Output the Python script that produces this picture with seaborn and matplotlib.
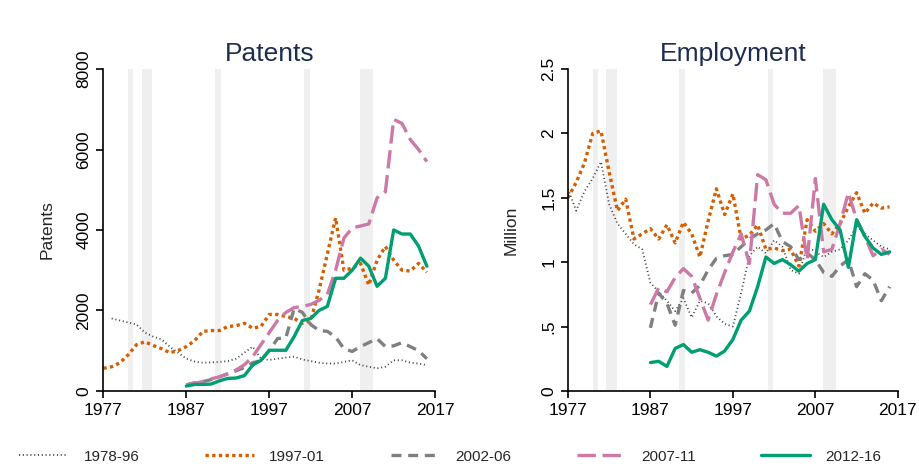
import matplotlib
matplotlib.use('Agg')
import matplotlib.pyplot as plt
import pandas as pd
import seaborn as sns

# years for each cohort series
years_77 = list(range(1977, 2017))
years_78 = list(range(1978, 2017))
years_87 = list(range(1987, 2017))

# Patents
pat_7896 = [1800, 1750, 1700, 1650, 1450, 1350, 1280, 1100, 950, 800,
            730, 700, 710, 720, 740, 800, 950, 1100, 800, 770,
            800, 830, 850, 780, 740, 700, 680, 680, 720, 760,
            640, 600, 560, 600, 760, 760, 700, 680, 640]
pat_9701 = [560, 600, 700, 900, 1150, 1220, 1130, 1050, 950, 1000,
            1100, 1250, 1480, 1500, 1500, 1600, 1620, 1680, 1560, 1600,
            1900, 1900, 1850, 1800, 1680, 1750, 2500, 3400, 4300, 3000,
            3050, 3170, 2630, 3250, 3590, 3250, 3000, 2980, 3170, 2950]
pat_0206 = [150, 200, 230, 280, 350, 420, 500, 580, 700, 750,
            1000, 1300, 1320, 2050, 1950, 1650, 1500, 1480, 1340, 1050,
            980, 1100, 1200, 1300, 1100, 1120, 1200, 1100, 1000, 800]
pat_0711 = [150, 190, 230, 300, 350, 430, 520, 650, 850, 1150,
            1450, 1750, 1950, 2070, 2100, 2150, 2250, 2400, 3000, 3800,
            4050, 4100, 4150, 4800, 4950, 6750, 6650, 6250, 6000, 5700]
pat_1216 = [120, 160, 160, 170, 250, 310, 320, 380, 640, 760,
            1010, 1010, 1010, 1350, 1750, 1800, 2000, 2100, 2800, 2800,
            3000, 3300, 3100, 2600, 2800, 4000, 3900, 3900, 3600, 3100]

# Employment (million)
emp_7896 = [1.57, 1.40, 1.55, 1.65, 1.78, 1.45, 1.30, 1.22, 1.14, 1.10,
            0.84, 0.77, 0.70, 0.62, 0.72, 0.57, 0.70, 0.68, 0.58, 0.52,
            0.50, 0.76, 1.05, 1.12, 1.07, 1.17, 1.12, 0.94, 0.91, 1.12,
            1.08, 1.04, 1.08, 1.10, 1.17, 1.28, 1.22, 1.17, 1.12, 1.10]
emp_9701 = [1.50, 1.62, 1.77, 2.00, 2.02, 1.70, 1.40, 1.49, 1.18, 1.22,
            1.26, 1.18, 1.29, 1.15, 1.31, 1.22, 1.04, 1.32, 1.57, 1.37,
            1.53, 1.18, 1.21, 1.29, 1.10, 1.11, 1.09, 1.10, 0.97, 1.33,
            1.24, 1.30, 1.22, 1.30, 1.43, 1.54, 1.38, 1.46, 1.42, 1.43]
emp_0206 = [0.49, 0.76, 0.68, 0.51, 0.78, 0.76, 0.82, 0.94, 1.03, 1.05,
            1.06, 1.12, 1.18, 1.22, 1.25, 1.30, 1.16, 1.12, 1.02, 1.07,
            1.02, 0.92, 0.89, 0.97, 1.02, 0.81, 0.91, 0.86, 0.70, 0.81]
emp_0711 = [0.67, 0.80, 0.77, 0.88, 0.95, 0.89, 0.72, 0.55, 0.75, 0.92,
            1.08, 1.22, 0.99, 1.68, 1.64, 1.45, 1.38, 1.38, 1.44, 1.02,
            1.65, 1.08, 1.10, 1.30, 1.54, 1.33, 1.20, 1.05, 1.10, 1.06]
emp_1216 = [0.22, 0.23, 0.19, 0.33, 0.36, 0.30, 0.32, 0.30, 0.27, 0.31,
            0.40, 0.55, 0.62, 0.81, 1.04, 0.99, 1.02, 0.98, 0.93, 0.99,
            1.02, 1.45, 1.33, 1.25, 0.96, 1.33, 1.20, 1.11, 1.06, 1.08]

cohorts = ['1978-96', '1997-01', '2002-06', '2007-11', '2012-16']
recessions = [(1980.0, 1980.6), (1981.6, 1982.9), (1990.5, 1991.2),
              (2001.2, 2001.9), (2007.9, 2009.5)]

styles = {
    '1978-96': dict(color='#444444', lw=1.3, ls=(0, (0.6, 1.5))),
    '1997-01': dict(color='#D55E00', lw=2.4, ls=(0, (1, 1))),
    '2002-06': dict(color='#808080', lw=2.4, ls=(0, (3, 2))),
    '2007-11': dict(color='#CC79A7', lw=2.4, ls=(0, (5.5, 2))),
    '2012-16': dict(color='#009E73', lw=2.4, ls='-'),
}

patents = {'1978-96': (years_78, pat_7896), '1997-01': (years_77, pat_9701),
           '2002-06': (years_87, pat_0206), '2007-11': (years_87, pat_0711),
           '2012-16': (years_87, pat_1216)}
employment = {'1978-96': (years_77, emp_7896), '1997-01': (years_77, emp_9701),
              '2002-06': (years_87, emp_0206), '2007-11': (years_87, emp_0711),
              '2012-16': (years_87, emp_1216)}

sns.set_style('white')
plt.rcParams['font.family'] = ['Liberation Sans', 'DejaVu Sans']

fig = plt.figure(figsize=(9.19, 4.67), dpi=100)
ax1 = fig.add_axes([0.1125, 0.163, 0.361, 0.689])
ax2 = fig.add_axes([0.618, 0.163, 0.359, 0.689])


def draw(ax, data, title, ylab, ymax, yticks, yticklabels):
    for a, b in recessions:
        ax.axvspan(a, b, color='#efefef', lw=0, zorder=0)
    for c in cohorts:
        yrs, vals = data[c]
        df = pd.DataFrame({'year': yrs, 'value': vals})
        st = styles[c]
        sns.lineplot(data=df, x='year', y='value', ax=ax, color=st['color'],
                     linewidth=st['lw'], linestyle=st['ls'], label=c, legend=False)
    ax.set_xlim(1977, 2017)
    ax.set_ylim(0, ymax)
    ax.set_xticks([1977, 1987, 1997, 2007, 2017])
    ax.set_yticks(yticks)
    ax.set_yticklabels(yticklabels, rotation=90, va='center')
    ax.tick_params(axis='both', direction='out', length=5, width=1.2,
                   labelsize=12.5, colors='black', left=True, bottom=True)
    ax.set_xlabel('')
    ax.set_ylabel(ylab, fontsize=12.5, labelpad=16)
    ax.set_title(title, fontsize=19, color='#1e2d4f', pad=6)
    sns.despine(ax=ax)
    for s in ['left', 'bottom']:
        ax.spines[s].set_color('black')
        ax.spines[s].set_linewidth(1.2)


draw(ax1, patents, 'Patents', 'Patents', 8000,
     [0, 2000, 4000, 6000, 8000], ['0', '2000', '4000', '6000', '8000'])
draw(ax2, employment, 'Employment', 'Million', 2.5,
     [0, 0.5, 1, 1.5, 2, 2.5], ['0', '.5', '1', '1.5', '2', '2.5'])

handles, labels = ax1.get_legend_handles_labels()
fig.legend(handles, labels, loc='lower center', bbox_to_anchor=(0.49, -0.022),
           ncol=5, frameon=False, fontsize=11, handlelength=3.2,
           columnspacing=4.3, handletextpad=1.0)

fig.savefig('out.png', dpi=100)
